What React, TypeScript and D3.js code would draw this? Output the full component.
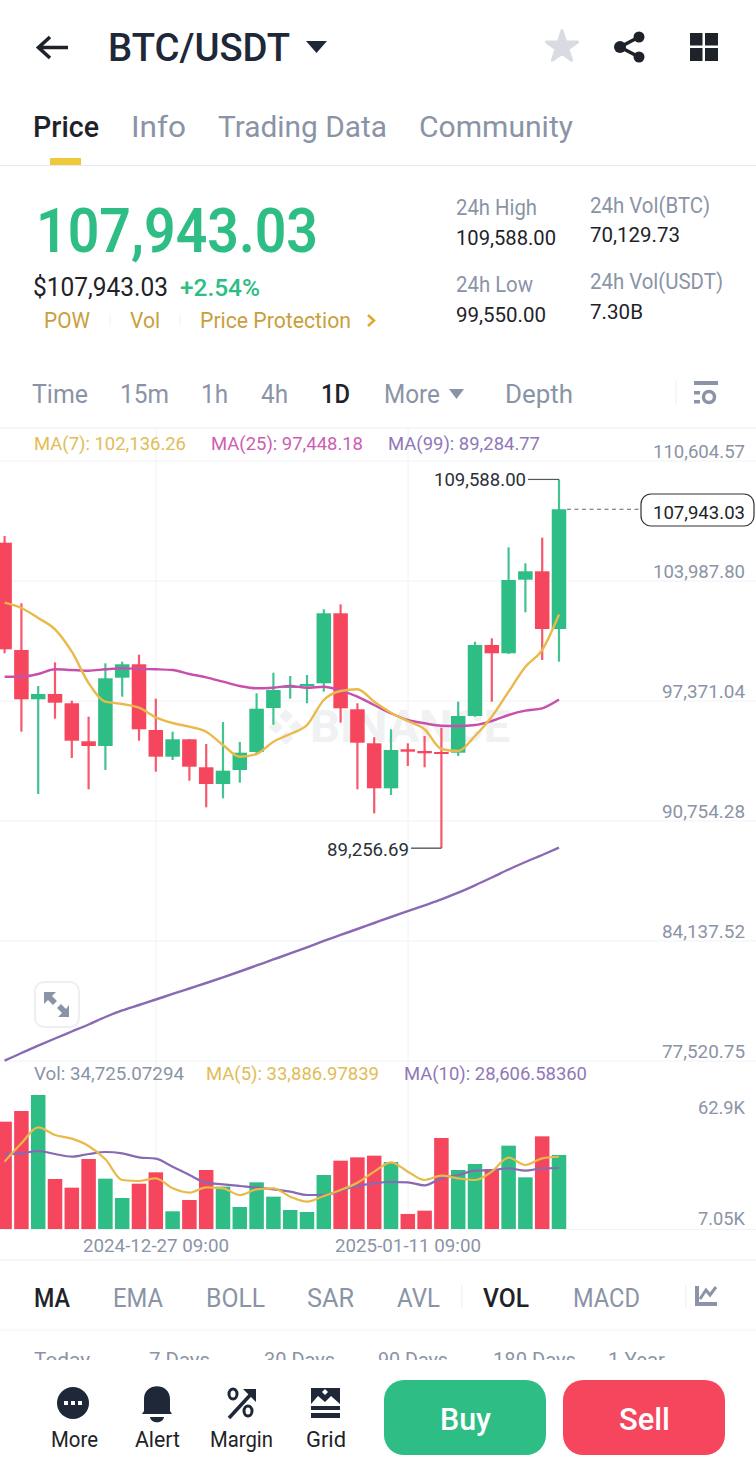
import React from "react";
import * as d3 from "d3";

const candleOpen = [106100,100184,97465,97757,97245,95149,94890,98656,99395,95772,94300,95259,93716,92795,93567,94559,96985,98127,98198,98347,102207,96914,95039,92558,94708,94614,94559,94521,96544,100459,100002,104060,104523,101341];
const candleClose = [100222,97465,97757,97278,95182,94890,98623,99395,95811,94300,95259,93749,92795,93528,94521,96947,97978,98198,98309,102207,96969,95072,92558,94670,94576,94488,94449,96544,100459,100002,104043,104523,101341,107943.03];
const candleHigh = [106469,102759,98198,99505,97388,96506,99450,99538,99924,97498,95679,95276,95000,96213,95111,97796,98932,98750,98805,102428,102703,97245,95370,95811,95039,95441,95899,97333,100641,100829,105846,104964,106376,109588];
const candleLow = [100002,95679,92243,96395,94228,92502,93567,97609,95182,93473,94118,92977,91510,92006,92867,94394,96065,97498,97245,97884,96175,92502,91179,92188,93787,93716,89256.69,94339,96506,97333,99964,102262,99632,99538];
const ma7 = [102792,102499,101948,101325,100090,98364,97333,97206,97002,96473,96158,95954,95679,94945,94300,94449,95127,95552,96048,97427,97923,98017,97333,96726,96269,95811,94725,94614,95441,96506,97884,99263,100184,102136.26];
const ma25 = [98711,98711,98860,99119,99081,99042,99119,99174,99136,99119,99081,98860,98678,98436,98198,98072,98105,98198,98105,98160,97939,97609,97151,96693,96324,96142,96009,95993,96048,96269,96599,96837,96969,97448.18];
const ma99 = [77538,77962,78365,78762,79148,79534,79947,80306,80609,80912,81216,81519,81822,82136,82456,82787,83118,83449,83790,84138,84469,84799,85130,85461,85781,86106,86437,86801,87209,87639,88080,88494,88880,89284.77];
const volume = [50340,55340,62850,23450,19390,32830,23610,14540,21260,26580,8290,13600,27670,19860,10320,21890,15170,8910,7970,25330,32050,33610,34400,31420,7050,8600,42680,27670,30490,28140,39090,24230,43460,34725.07];
const volMa5 = [31590,40180,47680,44090,42370,38930,32670,22980,22510,23760,19070,17050,19540,19070,15950,18600,19070,15170,12820,15480,18290,21730,26890,31270,26890,22980,25010,23760,22980,26890,33460,30020,33140,33886.98];
const volMa10 = [35020,35490,36580,35180,33930,35180,36120,35490,33610,32990,29230,25330,21730,20950,20170,19390,18600,17510,15950,15950,17980,20170,21420,22040,21890,20480,23760,25330,27360,27670,28450,27360,28450,28606.58];
const priceTicks = [110604.57,103987.8,97371.04,90754.28,84137.52,77520.75];
const volTicks = ["62.9K","7.05K"];
const dateTicks = ["2024-12-27 09:00","2025-01-11 09:00"];

const GREEN = "#2EBD85", RED = "#F6465D", GRAY = "#8A94A6", DARK = "#1E2329", GOLD = "#C99F3C";
const YEL = "#E9B949", PINK = "#C850AC", PUR = "#8A69B4", GRID = "#F1F2F4";
const FONT = "Roboto, sans-serif";

const T = ({ x, y, w, s = 20, f = DARK, b = 400, o, children }: any) => (
  <text x={x} y={y} fontFamily={FONT} fontSize={s} fontWeight={b} fill={f} opacity={o}
    textLength={w} lengthAdjust={w ? "spacingAndGlyphs" : undefined}>{children}</text>
);

export default function App() {
  const n = candleClose.length;
  const x = d3.scaleLinear().domain([0, n - 1]).range([4.6, 559]);
  const y = d3.scaleLinear().domain([77520.75, 110604.57]).range([1061, 461]);
  const vy = d3.scaleLinear().domain([0, 62850]).range([1229, 1095]);
  const fmt = d3.format(",.2f");
  const pLine = d3.line<number>().x((_, i) => x(i)).y(d => y(d)).curve(d3.curveMonotoneX);
  const vLine = d3.line<number>().x((_, i) => x(i)).y(d => vy(d)).curve(d3.curveMonotoneX);
  const star = d3.symbol().type(d3.symbolStar).size(300)() as string;
  const up = (i: number) => candleClose[i] >= candleOpen[i];
  const last = candleClose[n - 1];
  const hi = d3.max(candleHigh)!, lo = d3.min(candleLow)!;
  const hiI = candleHigh.indexOf(hi), loI = candleLow.indexOf(lo);
  return (
    <svg width={756} height={1476} viewBox="0 0 756 1476"
      style={{ position: "absolute", left: 0, top: 0, display: "block", background: "#fff" }}>
      <defs>
        <clipPath id="row"><rect x={0} y={1340} width={756} height={20} /></clipPath>
      </defs>
      {/* header */}
      <path d="M68 47.5H40M50 37L38.5 47.5L50 58" fill="none" stroke={DARK} strokeWidth={3.6} />
      <T x={108} y={61} w={182} s={38} b={500} f="#1E2838">BTC/USDT</T>
      <path d="M306 41H327L316.5 53Z" fill="#1E2838" />
      <path d={star} transform="translate(562,47)" fill="#D8DBE2" stroke="#D8DBE2" strokeWidth={3} strokeLinejoin="round" />
      <g fill={DARK}>
        <circle cx={639} cy={37} r={5.5} /><circle cx={620} cy={47} r={6} /><circle cx={639} cy={57} r={5.5} />
        <path d="M639 37L620 47L639 57" fill="none" stroke={DARK} strokeWidth={3.5} />
        <rect x={690} y={33} width={12.5} height={12.5} /><rect x={705} y={33} width={13} height={12.5} />
        <rect x={690} y={48} width={12.5} height={13} /><rect x={705} y={48} width={13} height={13} />
      </g>
      <T x={33} y={137} w={66} s={30} b={500}>Price</T>
      <T x={131} y={137} w={55} s={30} f={GRAY}>Info</T>
      <T x={218} y={137} w={169} s={30} f={GRAY}>Trading Data</T>
      <T x={419} y={137} w={154} s={30} f={GRAY}>Community</T>
      <rect x={50} y={158} width={31} height={7} fill="#F0C93A" />
      <line x1={0} x2={756} y1={165.5} y2={165.5} stroke="#E8E9EC" />
      {/* price block */}
      <T x={36} y={252} w={282} s={61} f={GREEN} b={600}>107,943.03</T>
      <T x={33} y={296} w={135} s={25} b={400}>$107,943.03</T>
      <T x={180} y={296} w={80} s={24} f={GREEN} b={500}>+2.54%</T>
      <T x={44} y={328} w={46} s={22} f={GOLD}>POW</T>
      <T x={130} y={328} w={30} s={22} f={GOLD}>Vol</T>
      <T x={200} y={328} w={151} s={22} f={GOLD}>Price Protection</T>
      <line x1={110} x2={110} y1={314} y2={326} stroke="#F1F2F4" />
      <line x1={180} x2={180} y1={314} y2={326} stroke="#F1F2F4" />
      <path d="M368 315L374 320.5L368 326" fill="none" stroke="#E0A92E" strokeWidth={2.5} />
      <T x={456} y={215} w={81} s={22} f={GRAY}>24h High</T>
      <T x={456} y={245} w={100} s={21}>109,588.00</T>
      <T x={456} y={292} w={77} s={22} f={GRAY}>24h Low</T>
      <T x={456} y={322} w={90} s={21}>99,550.00</T>
      <T x={590} y={213} w={120} s={22} f={GRAY}>24h Vol(BTC)</T>
      <T x={590} y={242} w={90} s={21}>70,129.73</T>
      <T x={590} y={289} w={133} s={22} f={GRAY}>24h Vol(USDT)</T>
      <T x={590} y={319} w={53} s={21}>7.30B</T>
      {/* interval row */}
      <T x={32} y={403} w={56} s={26} f={GRAY}>Time</T>
      <T x={120} y={403} w={49} s={26} f={GRAY}>15m</T>
      <T x={201} y={403} w={27} s={26} f={GRAY}>1h</T>
      <T x={261} y={403} w={27} s={26} f={GRAY}>4h</T>
      <T x={321} y={403} w={29} s={26} b={500}>1D</T>
      <T x={384} y={403} w={56} s={26} f={GRAY}>More</T>
      <path d="M449 389H464L456.5 399Z" fill={GRAY} />
      <T x={505} y={403} w={68} s={26} f={GRAY}>Depth</T>
      <line x1={676} x2={676} y1={381} y2={405} stroke="#EDEEF0" />
      <g fill={GRAY}>
        <rect x={694} y={381} width={24} height={4} />
        <rect x={694} y={391} width={6} height={3.5} /><rect x={694} y={400} width={6} height={3.5} />
        <circle cx={709} cy={397} r={5.5} fill="none" stroke={GRAY} strokeWidth={3.5} />
      </g>
      <line x1={0} x2={756} y1={428} y2={428} stroke="#EDEEF0" />
      {/* grid */}
      {priceTicks.map(t => <line key={t} x1={0} x2={756} y1={y(t)} y2={y(t)} stroke={GRID} />)}
      <line x1={0} x2={756} y1={1229.5} y2={1229.5} stroke={GRID} />
      {[156, 408].map(v => <line key={v} x1={v} x2={v} y1={428} y2={1230} stroke={GRID} />)}
      {/* watermark */}
      <g fill="#F0F1F3">
        {[[286,716],[276,727],[296,727],[286,738]].map(([a, b]) => (
          <rect key={a + "-" + b} x={a - 5} y={b - 5} width={10} height={10} transform={`rotate(45 ${a} ${b})`} />
        ))}
        <T x={310} y={742} w={200} s={44} f="#F0F1F3" b={700}>BINANCE</T>
      </g>
      {/* legends */}
      <T x={34} y={450} w={152} s={19} f="#E2BC57">MA(7): 102,136.26</T>
      <T x={211} y={450} w={152} s={19} f="#CC60B0">MA(25): 97,448.18</T>
      <T x={388} y={450} w={152} s={19} f="#9078B8">MA(99): 89,284.77</T>
      {priceTicks.map((t, i) => {
        const lab = fmt(t);
        const w = lab.length === 10 ? 92 : 83;
        return <T key={t} x={745 - w} y={y(t) - 3} w={w} s={19} f={GRAY}>{lab}</T>;
      })}
      {/* candles */}
      {candleClose.map((c, i) => {
        const col = up(i) ? GREEN : RED;
        const top = y(Math.max(c, candleOpen[i])), bot = y(Math.min(c, candleOpen[i]));
        return (
          <g key={i} fill={col}>
            <rect x={x(i) - 1.1} y={y(candleHigh[i])} width={2.2} height={y(candleLow[i]) - y(candleHigh[i])} opacity={0.9} />
            <rect x={x(i) - 7.25} y={top} width={14.5} height={Math.max(bot - top, 2)} />
          </g>
        );
      })}
      <path d={pLine(ma99)!} fill="none" stroke={PUR} strokeWidth={2.4} />
      <path d={pLine(ma25)!} fill="none" stroke={PINK} strokeWidth={2.4} />
      <path d={pLine(ma7)!} fill="none" stroke={YEL} strokeWidth={2.4} />
      {/* high / low / last */}
      <T x={434} y={y(hi) + 6.5} w={92} s={19} f="#2B3139">{fmt(hi)}</T>
      <path d={`M528 ${y(hi)}H${x(hiI)}`} stroke="#4F5B5A" strokeWidth={1.2} fill="none" />
      <T x={327} y={y(lo) + 8} w={82} s={19} f="#2B3139">{fmt(lo)}</T>
      <path d={`M411 ${y(lo)}H${x(loI)}`} stroke="#3A3F45" strokeWidth={1.2} fill="none" />
      <line x1={567} x2={640} y1={y(last)} y2={y(last)} stroke="#666" strokeWidth={1.2} strokeDasharray="4 3.5" />
      <rect x={641} y={494} width={113} height={32} rx={10} fill="#fff" stroke="#333" strokeWidth={1.2} />
      <T x={653} y={519} w={92} s={19} f="#1E2329">{fmt(last)}</T>
      {/* expand */}
      <rect x={35} y={982} width={44} height={45} rx={9} fill="#fff" stroke="#EEEFF1" strokeWidth={2} />
      <g fill={GRAY}>
        <path d="M44 992H56L52 996L57 1001L53 1005L48 1000L44 1004Z" />
        <path d="M69 1017H58L62 1013L57 1008L61 1004L66 1009L69 1005Z" />
      </g>
      {/* volume */}
      <T x={34} y={1080} w={150} s={19} f={GRAY}>Vol: 34,725.07294</T>
      <T x={206} y={1080} w={173} s={19} f="#E2BC57">MA(5): 33,886.97839</T>
      <T x={404} y={1080} w={183} s={19} f="#9078B8">MA(10): 28,606.58360</T>
      {volume.map((v, i) => (
        <rect key={i} x={x(i) - 7.25} y={vy(v)} width={14.5} height={vy(0) - vy(v)} fill={up(i) ? GREEN : RED} />
      ))}
      <path d={vLine(volMa10)!} fill="none" stroke={PUR} strokeWidth={2.2} />
      <path d={vLine(volMa5)!} fill="none" stroke={YEL} strokeWidth={2.2} />
      <T x={698} y={1114} w={47} s={19} f={GRAY}>{volTicks[0]}</T>
      <T x={698} y={1225} w={47} s={19} f={GRAY}>{volTicks[1]}</T>
      <T x={83} y={1252} w={146} s={19} f={GRAY}>{dateTicks[0]}</T>
      <T x={335} y={1252} w={146} s={19} f={GRAY}>{dateTicks[1]}</T>
      <line x1={0} x2={756} y1={1260} y2={1260} stroke="#EDEEF0" />
      {/* indicator tabs */}
      <T x={34} y={1307} w={36} s={26} b={500}>MA</T>
      <T x={113} y={1307} w={50} s={26} f={GRAY}>EMA</T>
      <T x={206} y={1307} w={59} s={26} f={GRAY}>BOLL</T>
      <T x={307} y={1307} w={47} s={26} f={GRAY}>SAR</T>
      <T x={397} y={1307} w={43} s={26} f={GRAY}>AVL</T>
      <line x1={462} x2={462} y1={1285} y2={1308} stroke="#EDEEF0" />
      <T x={483} y={1307} w={46} s={26} b={500}>VOL</T>
      <T x={573} y={1307} w={67} s={26} f={GRAY}>MACD</T>
      <line x1={686} x2={686} y1={1285} y2={1308} stroke="#EDEEF0" />
      <path d="M697 1286V1304H717" fill="none" stroke={GRAY} strokeWidth={4} />
      <path d="M700 1299L706 1290L710 1295L716 1287" fill="none" stroke={GRAY} strokeWidth={3} />
      <line x1={0} x2={756} y1={1330} y2={1330} stroke="#F1F2F4" />
      <g clipPath="url(#row)">
        <T x={34} y={1367} w={56} s={21} f={GRAY}>Today</T>
        <T x={149} y={1367} w={61} s={21} f={GRAY}>7 Days</T>
        <T x={264} y={1367} w={71} s={21} f={GRAY}>30 Days</T>
        <T x={378} y={1367} w={70} s={21} f={GRAY}>90 Days</T>
        <T x={493} y={1367} w={83} s={21} f={GRAY}>180 Days</T>
        <T x={608} y={1367} w={57} s={21} f={GRAY}>1 Year</T>
      </g>
      {/* bottom bar */}
      <circle cx={73} cy={1403} r={16} fill="#1E2838" />
      {[66, 73, 80].map(a => <rect key={a} x={a - 2} y={1401} width={4} height={4} fill="#fff" />)}
      <path d="M144 1411V1399C144 1382 170 1382 170 1399V1411L172 1414H142Z" fill="#1E2838" />
      <path d="M150 1417H164C163 1424 151 1424 150 1417Z" fill="#1E2838" />
      <g fill="none" stroke="#1E2838" strokeWidth={3}>
        <ellipse cx={233} cy={1394} rx={4} ry={5} /><ellipse cx={248} cy={1411} rx={4} ry={5} />
        <path d="M229 1418L253 1392" strokeWidth={3.5} />
      </g>
      <path d="M243 1389H256V1402Z" fill="#1E2838" />
      <path d="M311 1388H340V1404L331 1396L325 1402L318 1396L311 1404Z" fill="#1E2838" />
      <path d="M322 1392L325 1389L328 1392L325 1395Z" fill="#fff" />
      <rect x={311} y={1406} width={29} height={4} fill="#1E2838" />
      <rect x={311} y={1413} width={29} height={5} fill="#1E2838" />
      <T x={51} y={1447} w={47} s={22}>More</T>
      <T x={135} y={1447} w={45} s={22}>Alert</T>
      <T x={210} y={1447} w={63} s={22}>Margin</T>
      <T x={306} y={1447} w={40} s={22}>Grid</T>
      <rect x={384} y={1380} width={162} height={75} rx={20} fill={GREEN} />
      <rect x={563} y={1380} width={162} height={75} rx={20} fill={RED} />
      <T x={440} y={1430} w={51} s={31} f="#fff" b={500}>Buy</T>
      <T x={619} y={1430} w={51} s={31} f="#fff" b={500}>Sell</T>
    </svg>
  );
}
